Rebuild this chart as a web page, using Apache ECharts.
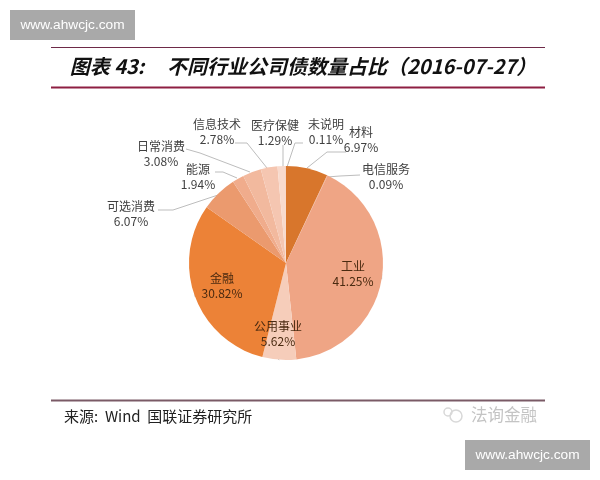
<!DOCTYPE html>
<html><head><meta charset="utf-8">
<style>html,body{margin:0;padding:0;background:#fff}#c{width:600px;height:480px}</style>
<script src="https://cdn.jsdelivr.net/npm/echarts@6/dist/echarts.min.js"></script>
</head><body><div id="c"></div>
<script>
const categories = ['材料','电信服务','工业','公用事业','金融','可选消费','能源','日常消费','信息技术','医疗保健','未说明'];
const shares = [6.97,0.09,41.25,5.62,30.82,6.07,1.94,3.08,2.78,1.29,0.11];
const sliceColors = ['#D8762C','#E9A080','#EFA585','#F6CDBA','#EC8237','#EB9A6E','#F0AC8C','#F2B99E','#F5C6B1','#F8DACD','#F3C4AE'];
const titleText = '图表 43:     不同行业公司债数量占比（2016-07-27）';
const sourceText = '来源:  Wind  国联证券研究所';
const brandText = '法询金融';
const siteText = 'www.ahwcjc.com';

const cjk = '"Noto Sans CJK SC","Liberation Sans",sans-serif';
const labelPos = {
  '材料':[361,140],'电信服务':[386,177],'工业':[353,274],'公用事业':[278,334],'金融':[222,286],
  '可选消费':[131,214],'能源':[198,177],'日常消费':[161,154],'信息技术':[217,132],'医疗保健':[275,133],'未说明':[326,132]
};
const linePts = {
  '材料':[[346,152],[327,152],[307,168]],
  '电信服务':[[360,175],[340,176],[327,177]],
  '可选消费':[[158,210],[173,210],[218,195]],
  '能源':[[215,172],[223,172],[237,178]],
  '日常消费':[[186,149],[200,153],[250,172]],
  '信息技术':[[235,143],[247,143],[267,168]],
  '医疗保健':[[283,145],[283,155],[283,167]],
  '未说明':[[303,143],[295,143],[287,167]]
};
const innerNames = ['工业','公用事业','金融'];
const chart = echarts.init(document.getElementById('c'));
const box = (x,y)=>[
  {type:'rect',shape:{x,y,width:125,height:30},style:{fill:'#A9A9A9'}},
  {type:'text',x:x+62.5,y:y+15,style:{text:siteText,fill:'#fff',font:'13.7px "Liberation Sans",sans-serif',align:'center',verticalAlign:'middle'}}
];
const rule = (y,h,c)=>({type:'rect',shape:{x:51,y,width:494,height:h},style:{fill:c}});
chart.setOption({
  animation:false,
  backgroundColor:'#fff',
  title:{text:titleText,left:298,top:51,textAlign:'center',textStyle:{fontFamily:cjk,fontSize:20,fontWeight:'bold',fontStyle:'italic',color:'#111'}},
  graphic:[
    ...box(10,10),...box(465,440),
    rule(47,1,'#6E2A48'),rule(86.5,2,'#8E1F42'),rule(399.5,2,'#7A5A66'),
    {type:'text',x:64,y:416,style:{text:sourceText,fill:'#222',font:'15px '+cjk,verticalAlign:'middle'}},
    {type:'text',x:471,y:415,style:{text:brandText,fill:'#C4C4C4',font:'16.5px '+cjk,verticalAlign:'middle'}},
    {type:'circle',shape:{cx:456,cy:416,r:6},style:{fill:'none',stroke:'#D8D8D8',lineWidth:1.5}},
    {type:'circle',shape:{cx:448,cy:412,r:4},style:{fill:'none',stroke:'#D8D8D8',lineWidth:1.5}}
  ],
  series:[{
    type:'pie',
    center:[286,263],
    radius:[0,97],
    startAngle:90,
    clockwise:true,
    minAngle:0,
    itemStyle:{borderWidth:0},
    data:categories.map((n,i)=>({
      name:n,value:shares[i],itemStyle:{color:sliceColors[i]},
      label:{color:innerNames.includes(n)?'#4A2A10':'#404040'}
    })),
    label:{
      show:true,position:'outside',
      formatter:p=>p.name+'\n'+p.value.toFixed(2)+'%',
      fontFamily:cjk,fontSize:12,lineHeight:15,align:'center',verticalAlign:'middle'
    },
    labelLine:{show:true,length:10,length2:10,lineStyle:{color:'#BDBDBD',width:1}},
    labelLayout:p=>{
      const n=categories[p.dataIndex];
      const [x,y]=labelPos[n];
      const r={x,y,align:'center',verticalAlign:'middle',hideOverlap:false};
      if(linePts[n]) r.labelLinePoints=linePts[n];
      return r;
    }
  }]
});
</script></body></html>
